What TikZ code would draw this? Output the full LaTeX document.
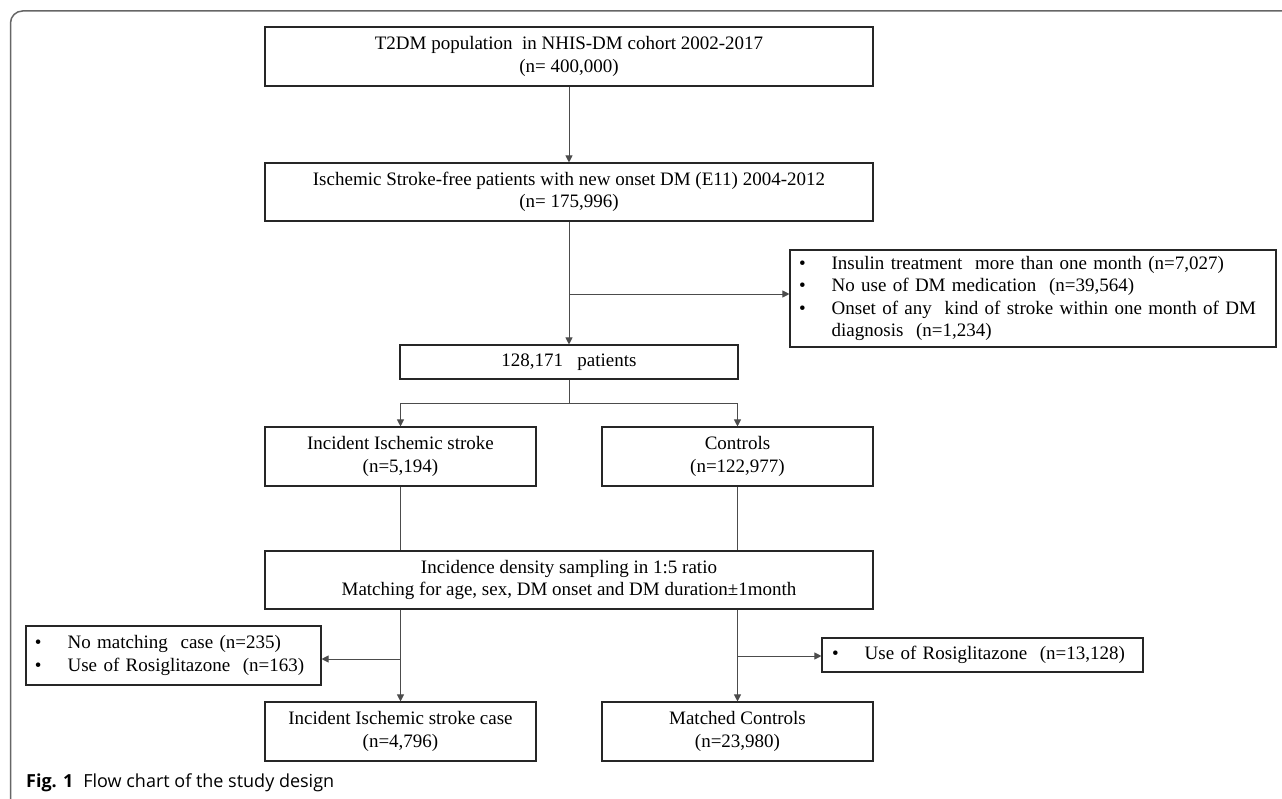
\documentclass[tikz,border=0pt]{standalone}
\usepackage{fontspec}
\setmainfont{Liberation Serif}
\newfontfamily\capfont{Open Sans}
\usetikzlibrary{arrows.meta}
\begin{document}
\begin{tikzpicture}[x=1bp,y=-1bp,
  box/.style={draw=black!85, line width=1.1bp, inner sep=0pt, align=center,
    font=\fontsize{19bp}{22.5bp}\selectfont},
  listbox/.style={draw=black!85, line width=1.1bp, inner xsep=9bp, inner ysep=0pt,
    align=left, anchor=center, font=\fontsize{19bp}{22.5bp}\selectfont},
  conn/.style={draw=black!70, line width=1bp},
  arr/.style={conn, -{Triangle[length=7bp,width=7bp]}},
  frame/.style={draw=black!60, line width=1.5bp}
]
\useasboundingbox (0,0) rectangle (1282,799);
\draw[frame, rounded corners=12bp] (10.5,799) -- (10.5,11) -- (1282,11);

\node[box, minimum width=608bp, minimum height=59bp] (b1) at (569,56.5)
  {T2DM population\ \ in NHIS-DM cohort 2002-2017\\(n= 400,000)};
\node[box, minimum width=608bp, minimum height=58bp] (b2) at (569,192)
  {Ischemic Stroke-free patients with new onset DM (E11) 2004-2012\\(n= 175,996)};
\node[listbox, minimum width=486bp, minimum height=97bp, text width=468bp] (ex1) at (1033,298.5)
  {\begin{tabular}{@{}l@{\hspace{26bp}}l@{}}
   \textbullet & Insulin treatment\ \ more than one month (n=7,027)\\
   \textbullet & No use of DM medication\ \ (n=39,564)\\
   \textbullet & Onset of any\ \ kind of stroke within one month of DM\\
               & diagnosis\ \ (n=1,234)
   \end{tabular}};
\node[box, minimum width=338bp, minimum height=34bp] (b3) at (569,362)
  {128,171\ \ \ patients};
\node[box, minimum width=271bp, minimum height=59bp] (b4) at (400.5,456.5)
  {Incident Ischemic stroke\\(n=5,194)};
\node[box, minimum width=271bp, minimum height=59bp] (ctl) at (737.5,456.5)
  {Controls\\(n=122,977)};
\node[box, minimum width=608bp, minimum height=58bp] (b5) at (569,580)
  {Incidence density sampling in 1:5 ratio\\Matching for age, sex, DM onset and DM duration\textpm1month};
\node[listbox, minimum width=295bp, minimum height=59bp, text width=277bp] (ex2) at (173.5,655.5)
  {\begin{tabular}{@{}l@{\hspace{26bp}}l@{}}
   \textbullet & No matching\ \ case (n=235)\\
   \textbullet & Use of Rosiglitazone\ \ (n=163)
   \end{tabular}};
\node[listbox, minimum width=321bp, minimum height=34bp, text width=301bp, inner xsep=10bp] (ex3) at (982.5,655)
  {\begin{tabular}{@{}l@{\hspace{26bp}}l@{}}
   \textbullet & Use of Rosiglitazone\ \ (n=13,128)
   \end{tabular}};
\node[box, minimum width=271bp, minimum height=59bp] (b6) at (400.5,731.5)
  {Incident Ischemic stroke case\\(n=4,796)};
\node[box, minimum width=271bp, minimum height=59bp] (mc) at (737.5,731.5)
  {Matched Controls\\(n=23,980)};

\node[anchor=west, inner sep=0pt, font=\capfont\fontsize{18bp}{21bp}\selectfont] (cap) at (26,783)
  {\textbf{Fig. 1}\hspace{10bp}Flow chart of the study design};

% connectors
\coordinate (k1) at (569,294);
\coordinate (k2) at (569,403);
\coordinate (k3) at (400.5,659);
\coordinate (k4) at (737.5,656);

\draw[arr] (b1.south) -- (b2.north);
\draw[arr] (b2.south) -- (b3.north);
\draw[arr] (k1) -- (k1 -| ex1.west);
\draw[conn] (b3.south) -- (k2);
\draw[conn] (k2 -| b4.north) -- (k2 -| ctl.north);
\draw[arr] (k2 -| b4.north) -- (b4.north);
\draw[arr] (k2 -| ctl.north) -- (ctl.north);
\draw[conn] (b4.south) -- (b4.south |- b5.north);
\draw[conn] (ctl.south) -- (ctl.south |- b5.north);
\draw[arr] (b5.south -| b6.north) -- (b6.north);
\draw[arr] (b5.south -| mc.north) -- (mc.north);
\draw[arr] (k3) -- (k3 -| ex2.east);
\draw[arr] (k4) -- (k4 -| ex3.west);
\end{tikzpicture}
\end{document}
